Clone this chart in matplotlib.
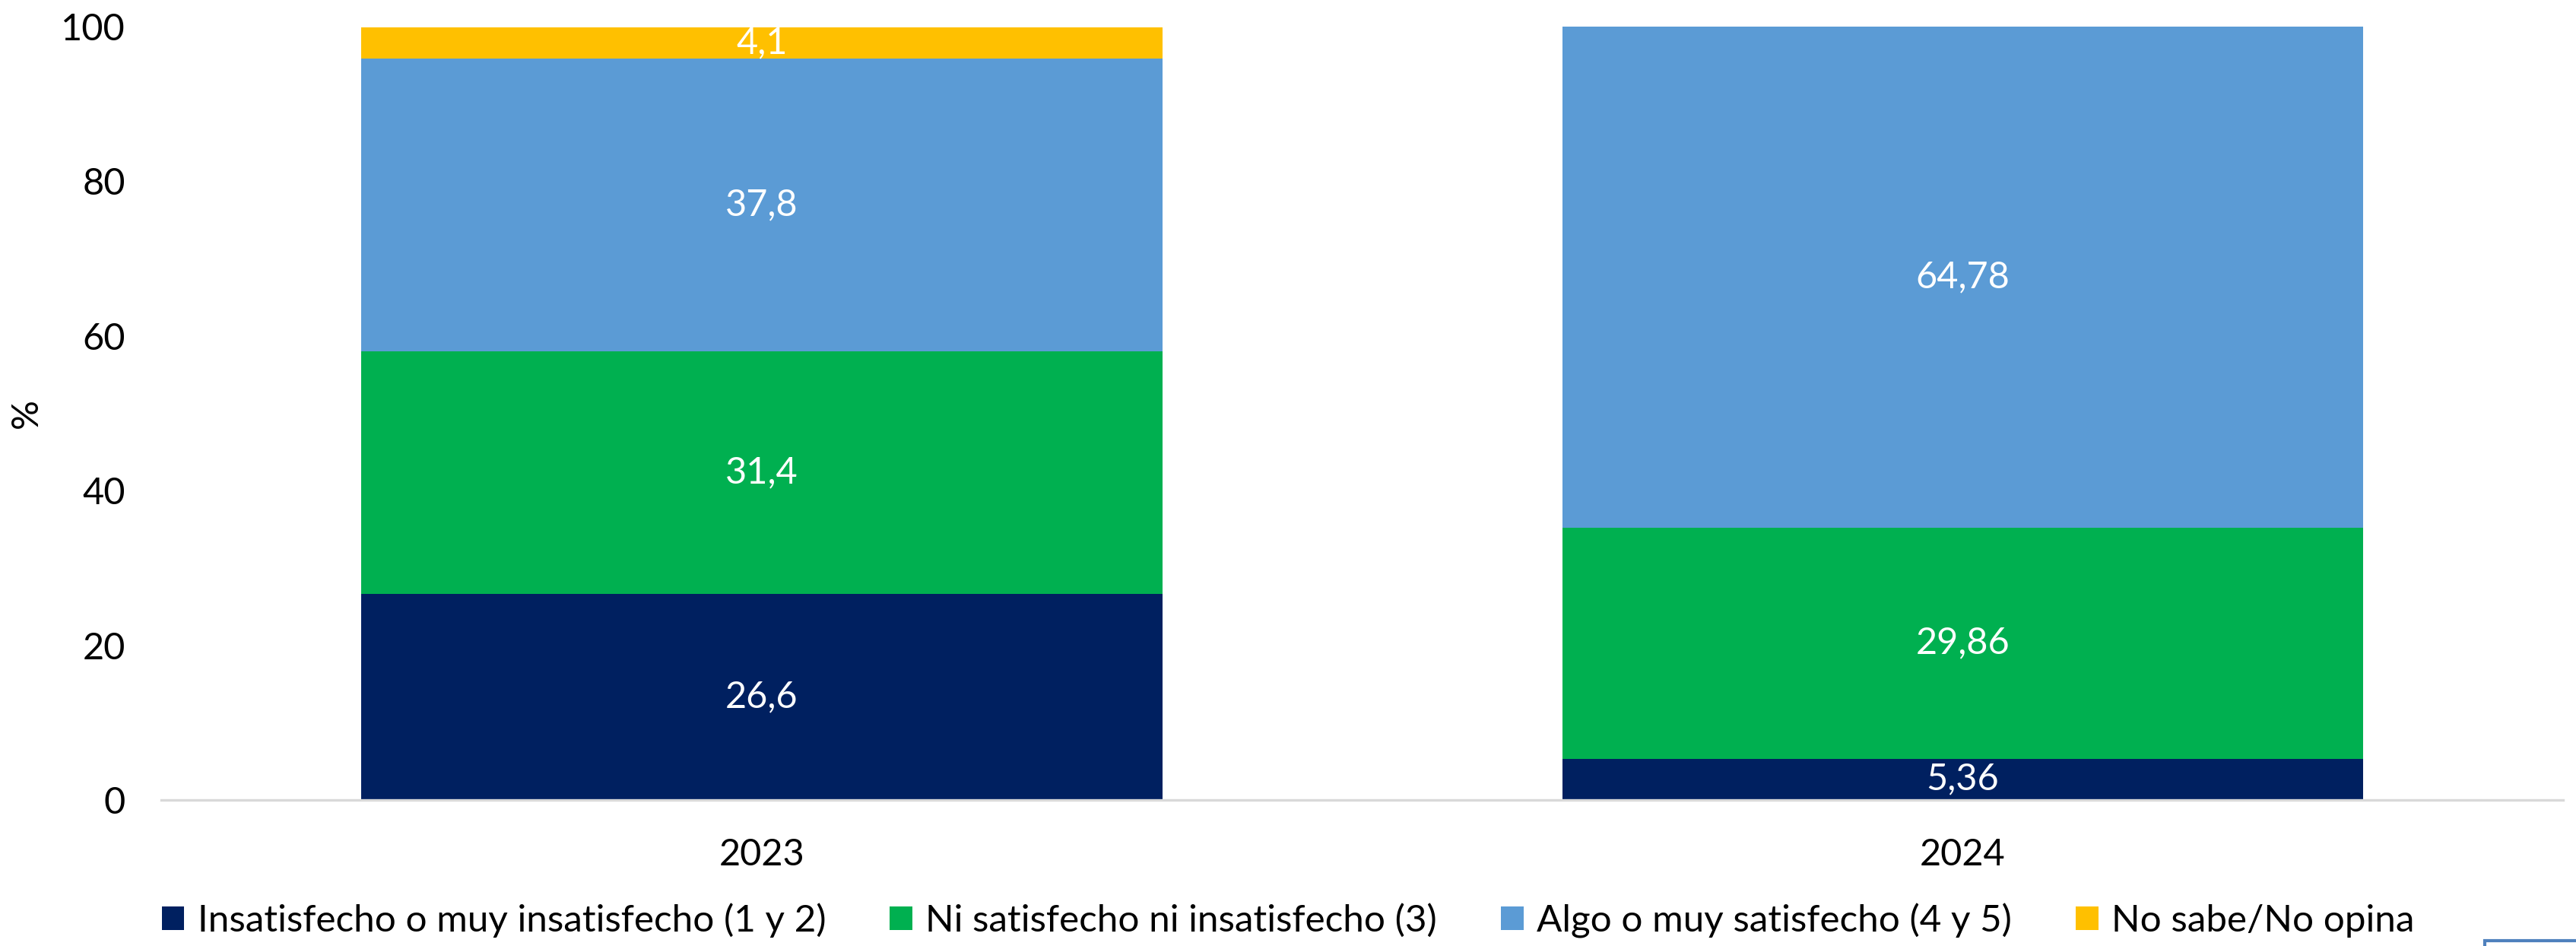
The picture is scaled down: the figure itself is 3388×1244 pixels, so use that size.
"""Satisfacción 2023 vs 2024 — stacked bars (percent)."""
import matplotlib
matplotlib.use("Agg")
import matplotlib.pyplot as plt
from matplotlib.patches import Rectangle

plt.rcParams["font.family"] = ["Lato", "DejaVu Sans"]

years = ["2023", "2024"]
series = [
    "Insatisfecho o muy insatisfecho (1 y 2)",
    "Ni satisfecho ni insatisfecho (3)",
    "Algo o muy satisfecho (4 y 5)",
    "No sabe/No opina",
]
insatisfecho = [26.6, 5.36]
ni_ni = [31.4, 29.86]
satisfecho = [37.8, 64.78]
no_sabe = [4.1, 0.0]
colors = ["#002060", "#00B050", "#5B9BD5", "#FFC000"]


def fmt(v):
    return f"{v:g}".replace(".", ",")


fig = plt.figure(figsize=(16.94, 6.22), dpi=200)
ax = fig.add_axes([0.0626, 0.1543, 0.9324, 0.8179])

x = range(len(years))
bottom = [0.0] * len(years)
for name, vals, c in zip(series, [insatisfecho, ni_ni, satisfecho, no_sabe], colors):
    ax.bar(x, vals, width=0.667, bottom=bottom, color=c, label=name, zorder=2)
    for i, v in enumerate(vals):
        if v > 0:
            ax.text(i, bottom[i] + v / 2, fmt(v), ha="center", va="center",
                    color="white", fontsize=17.5)
    bottom = [b + v for b, v in zip(bottom, vals)]

ax.set_xlim(-0.5, 1.5)
ax.set_ylim(0, 100)
ax.set_yticks(range(0, 101, 20))
ax.set_xticks(list(x))
ax.set_xticklabels(years)
ax.tick_params(axis="both", length=0, labelsize=17.5)
ax.tick_params(axis="y", pad=17)
ax.tick_params(axis="x", pad=18)
ax.set_ylabel("%", fontsize=17.5)
ax.yaxis.set_label_coords(-0.049, 0.5)
for s in ["top", "right", "left"]:
    ax.spines[s].set_visible(False)
ax.spines["bottom"].set_color("#d9d9d9")
ax.spines["bottom"].set_linewidth(1.2)

fig.legend(loc="center", bbox_to_anchor=(0.5, 0.027), ncol=4, frameon=False,
           fontsize=17.8, handlelength=0.6, handleheight=0.6, handletextpad=0.35,
           columnspacing=1.7)

# small box fragment at the lower right corner of the original
fig.patches.append(Rectangle((0.9645, -0.01), 0.05, 0.016, transform=fig.transFigure,
                             facecolor="white", edgecolor="#4f81bd", linewidth=1.5))

plt.savefig("out.png", dpi=200)
plt.close()
